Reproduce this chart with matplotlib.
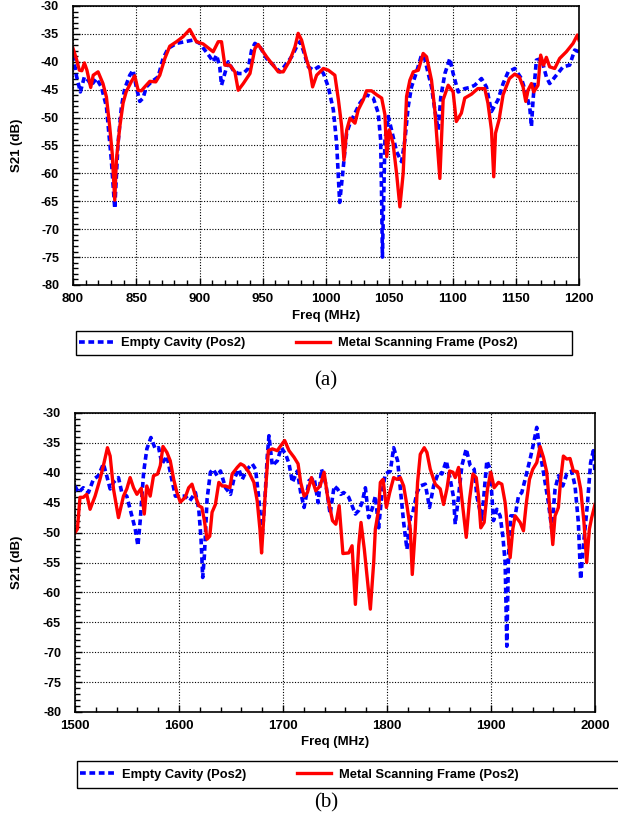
import matplotlib
matplotlib.use('Agg')
import matplotlib.pyplot as plt
from matplotlib.ticker import MultipleLocator
from matplotlib.patches import Rectangle

plt.rcParams['font.family'] = ['Liberation Sans', 'DejaVu Sans']
plt.rcParams['font.weight'] = 'bold'
plt.rcParams['axes.unicode_minus'] = False

# (a) 800-1200 MHz
fa_empty = [800, 802.6, 805.8, 809, 811.9, 814.5, 818.5, 822.4, 826.4, 830.3, 833, 835.6, 838.3, 840.9,
            844.9, 847.5, 850, 852.8, 855.4, 858, 862, 867.3, 871.2, 875.2, 881.8, 888.4, 895, 900.3,
            904.2, 908.2, 910.8, 913.5, 916, 917.4, 920, 922.7, 926.6, 930.6, 934.6, 938.5, 941.2,
            943.8, 947.8, 953, 958.3, 963.6, 968.9, 972.8, 976.8, 979.4, 982, 986, 990, 994, 998,
            1001.8, 1005.8, 1008.4, 1010.8, 1013.2, 1016.3, 1019, 1022.9, 1026.8, 1032, 1037.4,
            1041.3, 1043.2, 1044, 1044.6, 1046.6, 1049.2, 1051.8, 1055.8, 1059.7, 1062.4, 1065,
            1067.6, 1071.6, 1075.5, 1078, 1080.8, 1083.4, 1086, 1088.7, 1090.8, 1094, 1097.9,
            1100.5, 1104.5, 1109.7, 1113.7, 1117.6, 1122.9, 1126.8, 1130.8, 1136, 1140, 1144,
            1149.2, 1154.5, 1158.4, 1161, 1162.4, 1163.7, 1166.3, 1170.3, 1174.2, 1176.8, 1182.1,
            1187.4, 1192.6, 1196.6, 1200]
sa_empty = [-38.8, -42.4, -45.4, -42.7, -43.3, -44.2, -43, -44.5, -48, -57.6, -66.3, -54.6, -48, -44.8,
            -42.4, -41.5, -44.5, -47.1, -46.5, -44.5, -43.6, -42.7, -39.4, -37.6, -36.7, -36.4, -36.1,
            -36.7, -37.9, -39.1, -40, -38.8, -40.9, -44.2, -42.1, -40, -41.5, -42.1, -42.1, -41.2,
            -37.9, -36.7, -37.3, -39.4, -40.6, -41.8, -40.3, -39.1, -37.3, -36.4, -37.9, -40.9,
            -41.5, -40.9, -42.1, -44.5, -48.6, -54.6, -65.2, -60, -52.8, -51, -49.2, -47.4, -45.9,
            -46.5, -49.2, -54, -64.8, -75, -54, -49.8, -52.2, -56.1, -57.9, -54, -48, -44.5, -41.8,
            -38.8, -39.4, -42.1, -44.5, -48.6, -52.2, -46.2, -42.1, -39.4, -42.1, -45.4, -44.8,
            -44.6, -44.2, -43, -44.5, -48.9, -46.8, -43.9, -41.8, -41.2, -43, -45.9, -48, -51.6,
            -46.8, -39.7, -39.4, -42.7, -43.9, -42.4, -40.9, -40.6, -37.9, -38.2]

fa_metal = [800, 802.6, 805, 807, 809, 811, 814, 816, 819.8, 823.7, 826.4, 829, 831, 833, 834.3, 837,
            839.6, 842, 846, 848.8, 851.5, 854, 856.7, 860.7, 865.4, 868.6, 872.6, 876.5, 881.8, 887,
            892.3, 897.6, 902.9, 910.8, 914.8, 917.4, 920, 924, 928, 930.6, 934.6, 939.9, 943.8,
            946.4, 953, 962.3, 966.2, 971.5, 975.5, 978, 980.7, 984.7, 987.3, 989.4, 992.6, 997.9,
            1001.8, 1007, 1009.8, 1012.4, 1014.2, 1016.4, 1019, 1022.9, 1025.5, 1029.5, 1032, 1036,
            1040, 1044, 1046.6, 1048, 1050, 1053, 1055.8, 1058.4, 1061, 1063.7, 1066.3, 1069, 1073,
            1076.8, 1079.5, 1083.4, 1086, 1090, 1092.6, 1096.6, 1100.5, 1103, 1107, 1109.7, 1115,
            1120, 1125.5, 1128, 1130.8, 1132.6, 1134, 1136.8, 1140, 1145, 1149.2, 1153, 1155.8,
            1157.9, 1159.7, 1162.4, 1164.2, 1167.6, 1169.7, 1172, 1174.2, 1176.8, 1180.8, 1184.7,
            1190, 1195.3, 1198.7, 1200]
sa_metal = [-37.6, -39.4, -41.5, -41.6, -40.2, -41.5, -44.6, -42.4, -41.8, -43.9, -46.3, -51.6, -56.4,
            -64.8, -57.6, -51.6, -47.4, -45.4, -43.6, -42.5, -45.1, -45.2, -44.5, -43.5, -43.6, -42.4,
            -39.4, -37.2, -36.4, -35.5, -34.2, -36.4, -36.8, -38.2, -36.4, -36.4, -40.6, -40.6, -41.8,
            -45.1, -43.9, -42.1, -37.6, -36.9, -39.1, -41.8, -41.8, -39.7, -37.3, -34.9, -36.1, -39.7,
            -41.5, -44.5, -42.4, -41.2, -41.5, -42.4, -46.8, -51.6, -57.6, -52.2, -50.1, -51, -48.6,
            -46.8, -45.2, -45.2, -45.9, -46.5, -49.5, -57, -52.2, -54.6, -60, -66, -60, -46.2, -43.3,
            -41.8, -41.5, -38.5, -39.1, -43.3, -48.6, -60.9, -46.8, -44.2, -45.4, -50.7, -49.2, -46.5,
            -45.8, -44.8, -44.8, -47.4, -52.2, -60.6, -52.8, -50.4, -45.9, -43, -42.2, -42.8, -44.5,
            -47.1, -45.1, -43.9, -45.4, -44.2, -38.8, -40.6, -39.2, -40.9, -41.2, -39.4, -38.2, -36.7,
            -35.2, -36.1]

# (b) 1500-2000 MHz
fb_empty = [1500, 1503.2, 1508, 1512.9, 1517.7, 1522.5, 1527.3, 1530.5, 1533.8, 1537, 1541.8, 1545,
            1549.8, 1554.7, 1557.9, 1560.5, 1562.7, 1566, 1569.1, 1573, 1577.2, 1580.4, 1583.6,
            1588.4, 1591.6, 1596.5, 1601.3, 1606, 1610.3, 1615.8, 1619, 1621.2, 1622.8, 1624.4, 1627,
            1630.2, 1632.8, 1636.7, 1639.9, 1644.7, 1649.5, 1652.7, 1657.6, 1660.8, 1665.6, 1670.4,
            1673.6, 1676.8, 1680, 1682.6, 1684.9, 1686.5, 1689.7, 1694.5, 1698.4, 1702.6, 1705.8,
            1709, 1713.8, 1717, 1720.3, 1725.1, 1729.9, 1733.8, 1737, 1741.2, 1745.3, 1749.2, 1752.4,
            1755.6, 1758.4, 1763.2, 1769.6, 1772.8, 1776, 1779.2, 1782.4, 1785.6, 1788.8, 1792,
            1795.2, 1798.4, 1803.2, 1806.4, 1810.2, 1812.8, 1816, 1819.2, 1822.4, 1824.9, 1828.8,
            1832, 1836.8, 1840.9, 1844.8, 1849.6, 1852.8, 1857, 1860.8, 1864, 1865.6, 1868.8, 1872,
            1876.2, 1880, 1883.8, 1886.4, 1891.2, 1894.4, 1896, 1899.2, 1902.4, 1905.6, 1908.8,
            1911.4, 1913.6, 1915.2, 1916.8, 1919, 1923.2, 1926.4, 1929.6, 1932.8, 1937.6, 1940.8,
            1944, 1947.2, 1950.4, 1955.2, 1958.4, 1961.6, 1964.8, 1969, 1972.8, 1977.6, 1980.8, 1984,
            1986.2, 1989.4, 1992.6, 1995.8, 1998.4, 2000]
sb_empty = [-42.2, -43.3, -42.5, -43.3, -41.1, -40.5, -38.5, -40.5, -42.7, -41.6, -40.8, -43.3, -43.9,
            -47.2, -49.4, -52.2, -48, -39.9, -36, -34.1, -36, -35.8, -38.5, -37.2, -39.9, -43.9, -43.9,
            -43.9, -44.7, -43.3, -46.1, -51.1, -57.5, -53.9, -44.4, -39.9, -39.4, -40.5, -39.7, -42.5,
            -43.6, -41.1, -39.4, -41.1, -39.4, -38.5, -39.4, -44.4, -50.6, -44.4, -37.2, -33.8, -38.8,
            -38, -35.8, -36.9, -38.5, -41.6, -39.7, -43.3, -45.8, -41.3, -40.8, -45, -39.4, -41.9,
            -46.9, -42.2, -42.7, -43.6, -43.3, -44.1, -46.9, -46.3, -45, -42.5, -47.5, -46.1, -43.9,
            -49.2, -43.3, -40.2, -39.7, -35.8, -38, -42.7, -48.3, -52.8, -47.5, -46.6, -43.3, -42.2,
            -41.9, -45.8, -42.2, -39.9, -40.2, -38, -41.1, -44.1, -48.6, -43.9, -38.8, -36, -38.8,
            -39.4, -43.9, -47.8, -41.3, -38, -39.4, -48, -46.1, -47.2, -50.6, -55, -69, -53.9, -47.2,
            -47.2, -43.9, -43.3, -41.1, -37.7, -35.2, -32.4, -36.6, -39.9, -45, -49.4, -42.7, -40.5,
            -42.2, -40.2, -39.7, -42.2, -48.3, -57.8, -51.1, -45.5, -38.3, -36.3, -39.9]

fb_metal = [1500, 1502.3, 1504.8, 1508, 1511.3, 1514.5, 1519.3, 1524, 1527.3, 1531.2, 1533.8, 1537,
            1541.8, 1546.6, 1549.8, 1553, 1556.3, 1559.5, 1563.7, 1566.6, 1569, 1572.3, 1575.5,
            1579.4, 1582, 1584.6, 1588.4, 1591.6, 1594.9, 1598, 1601.3, 1606, 1609.3, 1612.5, 1615.8,
            1619, 1622, 1624.4, 1627, 1629.6, 1631.8, 1635, 1638.3, 1641.5, 1644.7, 1648.9, 1651.1,
            1656, 1659.2, 1662.4, 1667.2, 1672, 1675.2, 1677.8, 1679.4, 1682.6, 1685.9, 1689.7,
            1694.5, 1697.7, 1701.6, 1705.8, 1710.6, 1714.5, 1717, 1720.3, 1723.5, 1727.3, 1731.5,
            1735.7, 1739.5, 1742.8, 1747.6, 1750.8, 1754, 1757.6, 1763.2, 1766.4, 1769.6, 1772.8,
            1775, 1778.2, 1781.4, 1784, 1787.2, 1788.8, 1792, 1793.6, 1796.2, 1799.4, 1802.6, 1806.4,
            1809.6, 1812.8, 1816, 1819.2, 1822.4, 1824.3, 1827.2, 1829.4, 1832, 1835.8, 1838.4,
            1841.6, 1846.4, 1851.2, 1854.4, 1857.6, 1860.2, 1863.4, 1865.6, 1868.8, 1872, 1876.2,
            1879.4, 1882.6, 1885.8, 1888, 1890.2, 1893.4, 1896.6, 1899.8, 1903, 1907.2, 1910.4,
            1913.6, 1916.2, 1918.4, 1921, 1923.2, 1928, 1931.2, 1933.8, 1937, 1940.2, 1944, 1947.2,
            1950.4, 1953.6, 1956.8, 1959.4, 1961.6, 1964.8, 1967, 1969.6, 1972.8, 1976, 1979.2, 1983,
            1986.2, 1989.4, 1992, 1994.6, 1996.8, 2000]
sb_metal = [-50, -49.4, -44.1, -44.1, -43.6, -46.1, -43.9, -41.1, -38.8, -35.8, -37.2, -42.7, -47.5,
            -43.9, -42.7, -40.8, -42.5, -43.6, -42.6, -46.9, -42.2, -43.9, -40.5, -40.2, -38.8, -35.6,
            -36.6, -38, -41.1, -43.3, -44.9, -44.1, -42.5, -41.9, -43.9, -45.5, -45.8, -48, -51.1,
            -50.6, -46.6, -45.3, -41.6, -42.2, -42.2, -42.5, -40.2, -39.1, -38.5, -38.8, -39.9, -41.6,
            -44.7, -49.4, -53.4, -44.4, -36.3, -36, -36.3, -35.5, -34.6, -36.3, -37.4, -38.5, -41.6,
            -43.9, -43.3, -40.8, -43, -42.2, -39.9, -43.9, -48, -48.6, -45.5, -53.5, -53.4, -52.2, -62,
            -52.2, -48.3, -52.8, -58.4, -62.8, -55, -49.4, -46.1, -41.6, -41.1, -45.8, -43.3, -40.8,
            -41.1, -40.8, -42.2, -45.5, -49.4, -57, -49.4, -41.6, -36.9, -35.8, -36.6, -39.4, -41.9,
            -42.7, -45.3, -42.7, -39.7, -39.9, -40.8, -39.1, -44.4, -50.8, -44.4, -40.2, -40.8, -43.9,
            -49.2, -48.3, -42.7, -39.9, -42.5, -41.6, -41.9, -45, -50, -54.2, -49.4, -47.2, -48.3,
            -49.7, -45.3, -41.1, -39.4, -38.3, -35.6, -37.4, -39.9, -46.6, -52, -47.2, -45.8, -41.1,
            -37.2, -37.7, -37.6, -39.7, -39.8, -42.7, -48.3, -55, -49.4, -47.5, -45.3]

label_empty = 'Empty Cavity (Pos2)'
label_metal = 'Metal Scanning Frame (Pos2)'

fig = plt.figure(figsize=(6.18, 8.32), dpi=100)
W, H = 618.0, 832.0
# axes rectangles in pixels: left, top, right, bottom
ax1 = fig.add_axes([73 / W, 1 - 285 / H, (579 - 73) / W, (285 - 6) / H])
ax2 = fig.add_axes([75 / W, 1 - 712 / H, (595 - 75) / W, (712 - 413) / H])


def style(ax, xlim, xmajor, xminor):
    ax.set_xlim(*xlim)
    ax.set_ylim(-80, -30)
    ax.xaxis.set_major_locator(MultipleLocator(xmajor))
    ax.xaxis.set_minor_locator(MultipleLocator(xminor))
    ax.yaxis.set_major_locator(MultipleLocator(5))
    ax.yaxis.set_minor_locator(MultipleLocator(1))
    ax.tick_params(which='both', direction='in', width=1)
    ax.tick_params(axis='x', which='major', labelsize=9.5, pad=6)
    ax.tick_params(axis='y', which='major', labelsize=9, pad=10)
    ax.tick_params(which='major', length=5)
    ax.tick_params(which='minor', length=3.5)
    ax.grid(which='major', color='black', linestyle=(0, (1, 1.5)), linewidth=0.8)
    for sp in ax.spines.values():
        sp.set_linewidth(1.2)
    for lab in ax.get_xticklabels() + ax.get_yticklabels():
        lab.set_fontweight('bold')
    ax.set_xlabel('Freq (MHz)', fontsize=9.5, fontweight='bold', labelpad=3)
    ax.set_ylabel('S21 (dB)', fontsize=9.5, fontweight='bold')


style(ax1, (800, 1200), 50, 10)
style(ax2, (1500, 2000), 100, 20)
ax1.yaxis.set_label_coords((23 - 73) / 506, 0.5)
ax2.yaxis.set_label_coords((23 - 75) / 520, 0.5)

for ax, fe, se, fm, sm in [(ax1, fa_empty, sa_empty, fa_metal, sa_metal),
                           (ax2, fb_empty, sb_empty, fb_metal, sb_metal)]:
    ax.plot(fe, se, color='#0000ff', linewidth=2.6, linestyle=(0, (1.6, 1.0)), label=label_empty)
    ax.plot(fm, sm, color='#ff0000', linewidth=2.4, label=label_metal)

# legend boxes beneath each plot (box in pixels, legend content starting at left)
for ax, box in [(ax1, (76, 331, 572, 355)), (ax2, (77, 761, 640, 788))]:
    x0, y0, x1, y1 = box
    fig.patches.append(Rectangle((x0 / W, 1 - y1 / H), (x1 - x0) / W, (y1 - y0) / H,
                                 transform=fig.transFigure, fill=False, edgecolor='black',
                                 linewidth=1.0, clip_on=False))
    fig.legend(*ax.get_legend_handles_labels(), loc='center left', ncol=2,
               bbox_to_anchor=(x0 / W, 1 - (y0 + y1) / 2 / H), bbox_transform=fig.transFigure,
               frameon=False, borderaxespad=0, borderpad=0.25, handlelength=2.6, handletextpad=0.6,
               columnspacing=4.0, prop={'size': 9.3, 'weight': 'bold'})

fig.text(326 / W, 1 - 381 / H, '(a)', ha='center', va='center', fontsize=15,
         family='Liberation Serif', fontweight='normal')
fig.text(326 / W, 1 - 803 / H, '(b)', ha='center', va='center', fontsize=15,
         family='Liberation Serif', fontweight='normal')

plt.savefig('out.png', dpi=100)
